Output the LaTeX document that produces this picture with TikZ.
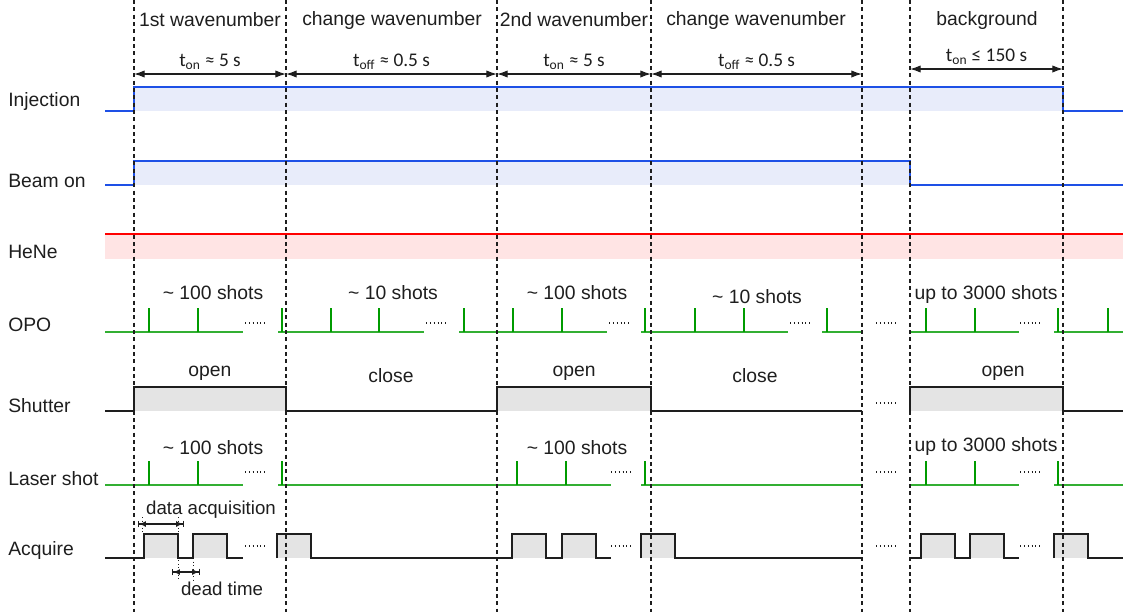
\documentclass[tikz,border=0pt]{standalone}
\usepackage{fontspec}
\setmainfont{Liberation Sans}
\newfontfamily\narrowfont{Carlito}
\usepackage{tikz}
\usetikzlibrary{arrows.meta, calc}

\definecolor{injblue}  {RGB}{ 30,  80, 230}
\definecolor{injfill}  {RGB}{232, 236, 250}
\definecolor{henered}  {RGB}{255,   0,   0}
\definecolor{henefill} {RGB}{255, 228, 228}
\definecolor{shotgreen}{RGB}{  0, 155,   0}
\definecolor{basegreen}{RGB}{ 50, 175,  50}
\definecolor{boxgray}  {RGB}{228, 228, 228}
\definecolor{inkgray}  {RGB}{ 30,  30,  30}

\tikzset{
	lbl/.style={anchor=west, inner sep=0pt, text=inkgray, font=\fontsize{14.5}{17}\selectfont},
	txt/.style={inner sep=0pt, text=inkgray, font=\fontsize{14.5}{17}\selectfont},
	dur/.style={inner sep=0pt, text=inkgray, font=\narrowfont\fontsize{14.5}{16}\selectfont},
	tmark/.style={inkgray, dash pattern=on 3pt off 2.5pt, line width=0.8pt},
	span/.style={inkgray, line width=0.9pt, {Latex[length=8pt,width=5.5pt]}-{Latex[length=8pt,width=5.5pt]}},
	gapdim/.style={inkgray, line width=0.9pt, {Bar[width=5pt]Latex[length=5pt,width=4.5pt]}-{Latex[length=5pt,width=4.5pt]Bar[width=5pt]}},
	guide/.style={inkgray, dotted, line width=0.7pt},
	blueline/.style={injblue, line width=1.1pt},
	sigline/.style={inkgray, line width=1.1pt},
	baseline/.style={basegreen, line width=1.1pt},
	spike/.style={shotgreen, line width=1.5pt},
	more/.style={inkgray, dash pattern=on 0.7pt off 2.2pt, line width=0.8pt}
}

\begin{document}
\begin{tikzpicture}[x=0.75pt, y=-0.75pt]
	\useasboundingbox (0,0) rectangle (1123,612);

	\foreach \n/\x in {1/134, 2/286, 3/497, 4/651, 5/862, 6/910, 7/1063}
		\coordinate (m\n) at (\x,0);

	% row labels
	\node[lbl] (linj) at (8,101) {Injection};
	\node[lbl] (lbeam) at (8,181) {Beam on};
	\node[lbl] (lhene) at (8,252) {HeNe};
	\node[lbl] (lopo) at (8,325) {OPO};
	\node[lbl] (lshut) at (8,406) {Shutter};
	\node[lbl] (llaser) at (8,479) {Laser shot};
	\node[lbl] (lacq) at (8,550) {Acquire};

	% phases
	\node[txt] (p1) at (210,20) {1st wavenumber};
	\node[txt] (p2) at (392,20) {change wavenumber};
	\node[txt] (p3) at (574,20) {2nd wavenumber};
	\node[txt] (p4) at (756,20) {change wavenumber};
	\node[txt] (p5) at (987,20) {background};

	\draw[span] ($(m1)+(0,74)$) -- ($(m2)+(0,74)$) node[dur, midway, above=3pt] (d1) {t\textsubscript{on} ≈ 5 s};
	\draw[span] ($(m2)+(0,74)$) -- ($(m3)+(0,74)$) node[dur, midway, above=3pt] (d2) {t\textsubscript{off} ≈ 0.5 s};
	\draw[span] ($(m3)+(0,74)$) -- ($(m4)+(0,74)$) node[dur, midway, above=3pt] (d3) {t\textsubscript{on} ≈ 5 s};
	\draw[span] ($(m4)+(0,74)$) -- ($(m5)+(0,74)$) node[dur, midway, above=3pt] (d4) {t\textsubscript{off} ≈ 0.5 s};
	\draw[span] ($(m6)+(0,69)$) -- ($(m7)+(0,69)$) node[dur, midway, above=3pt] (d5) {t\textsubscript{on} ≤ 150 s};

	% fills
	\fill[injfill] (134,87) rectangle (1063,111);
	\fill[injfill] (134,161) rectangle (910,185);
	\fill[henefill] (105,234) rectangle (1123,259);
	\foreach \a/\b in {134/286, 497/651, 910/1063}
		\fill[boxgray] (\a,387) rectangle (\b,411);
	\foreach \a in {144,193,277,512,562,641,921,970,1054}
		\fill[boxgray] (\a,534) rectangle ++(34,24);

	% injection, beam, hene
	\draw[blueline] (105,111) -| (134,87) -| (1063,111) -- (1123,111);
	\draw[blueline] (105,185) -| (134,161) -| (910,185) -- (1123,185);
	\draw[henered, line width=1.1pt] (105,234) -- (1123,234);

	% OPO
	\foreach \a/\b in {105/243, 278/424, 459/607, 641/788, 822/862, 910/1019, 1054/1123}
		\draw[baseline] (\a,332) -- (\b,332);
	\foreach \x in {149,198,282,331,379,464,513,562,645,695,744,827,926,975,1058,1108}
		\draw[spike] (\x,332) -- (\x,308);
	\foreach \a in {245,426,609,790,876,1020}
		\draw[more] (\a,323) -- ++(22,0);
	\node[txt] (o1) at (213,293) {\textasciitilde{} 100 shots};
	\node[txt] (o2) at (393,293) {\textasciitilde{} 10 shots};
	\node[txt] (o3) at (577,293) {\textasciitilde{} 100 shots};
	\node[txt] (o4) at (757,297) {\textasciitilde{} 10 shots};
	\node[txt] (o5) at (986,294) {up to 3000 shots};

	% shutter
	\draw[sigline] (105,411) -| (134,387) -| (286,411) -| (497,387) -| (651,411) -- (862,411);
	\draw[sigline] (910,411) |- (1063,387) |- (1123,411);
	\draw[more] (876,403) -- ++(22,0);
	\node[txt] (s1) at (210,373) {open};
	\node[txt] (s2) at (391,376) {close};
	\node[txt] (s3) at (574,373) {open};
	\node[txt] (s4) at (755,376) {close};
	\node[txt] (s5) at (1003,373) {open};

	% laser shot
	\foreach \a/\b in {105/243, 278/611, 641/862, 910/1019, 1054/1123}
		\draw[baseline] (\a,485) -- (\b,485);
	\foreach \x in {149,198,282,517,566,645,926,975,1058}
		\draw[spike] (\x,485) -- (\x,461);
	\foreach \a in {245,611,876,1020}
		\draw[more] (\a,472) -- ++(22,0);
	\node[txt] (l1) at (213,448) {\textasciitilde{} 100 shots};
	\node[txt] (l3) at (577,448) {\textasciitilde{} 100 shots};
	\node[txt] (l5) at (986,446) {up to 3000 shots};

	% acquire
	\draw[sigline] (105,558) -| (144,534) -| (178,558) -| (193,534) -| (227,558) -- (243,558);
	\draw[sigline] (277,558) |- (311,534) |- (512,558) |- (546,534) |- (562,558) |- (596,534) |- (611,558);
	\draw[sigline] (641,558) |- (675,534) |- (862,558);
	\draw[sigline] (910,558) -| (921,534) -| (955,558) -| (970,534) -| (1004,558) -- (1019,558);
	\draw[sigline] (1054,558) |- (1088,534) |- (1123,558);
	\foreach \a in {245,611,876,1020}
		\draw[more] (\a,546) -- ++(22,0);

	\draw[guide] (142,517) -- (142,534);
	\draw[guide] (178,517) -- (178,580);
	\draw[guide] (193,558) -- (193,580);
	\draw[gapdim] (138,524) -- (184,524);
	\draw[gapdim] (172,572) -- (200,572);
	\node[txt, font=\fontsize{14}{16}\selectfont] (da) at (211,510) {data acquisition};
	\node[txt, font=\fontsize{14}{16}\selectfont] (dt) at (222,589) {dead time};

	% time marks
	\foreach \n in {1,...,7}
		\draw[tmark] (m\n) -- ++(0,612);
\end{tikzpicture}
\end{document}
